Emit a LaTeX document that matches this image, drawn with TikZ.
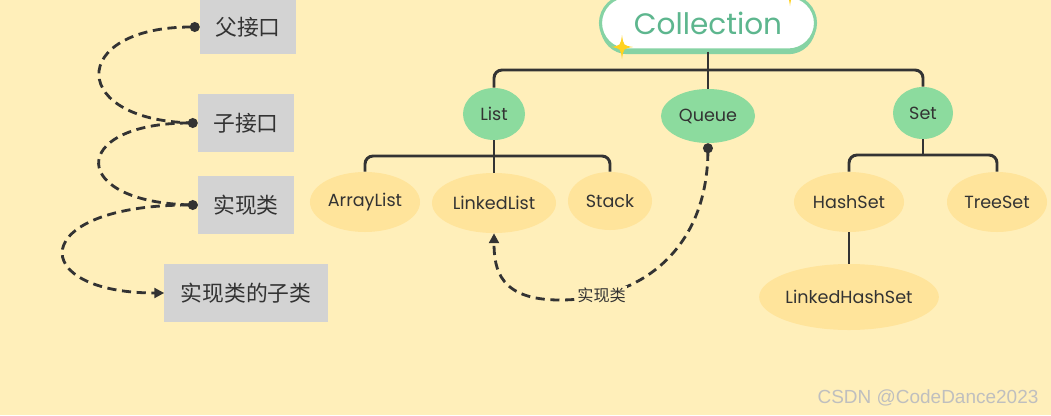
\documentclass[tikz,border=0pt]{standalone}
\usepackage{fontspec}
\setmainfont{Poppins}
\newfontfamily\cjk{Noto Sans CJK SC}
\newfontfamily\markfont{Liberation Sans}
\usepackage{tikz}
\usetikzlibrary{arrows.meta, positioning, shapes.geometric, shadows}
\definecolor{bgyellow}{HTML}{FFEFBA}
\definecolor{boxgray}{HTML}{D3D3D3}
\definecolor{ifgreen}{HTML}{8CDB9E}
\definecolor{clsyellow}{HTML}{FFE49B}
\definecolor{collgreen}{HTML}{86D3A4}
\definecolor{colltext}{HTML}{5DB68E}
\definecolor{inkdark}{HTML}{333333}
\definecolor{sparkle}{HTML}{FFD21F}

\begin{document}
\begin{tikzpicture}[x=0.025cm,y=-0.025cm]
 \tikzstyle{legend}=[rectangle,fill=boxgray,inner sep=0pt,minimum width=2.4cm,
   minimum height=1.425cm,font=\cjk\fontsize{15.5}{18}\selectfont,text=inkdark]
 \tikzstyle{iface}=[ellipse,fill=ifgreen,inner sep=0pt,minimum height=1.3cm,
   font=\fontsize{12.5}{14}\selectfont,text=inkdark]
 \tikzstyle{impl}=[ellipse,fill=clsyellow,inner sep=0pt,minimum height=1.5cm,
   font=\fontsize{12.5}{14}\selectfont,text=inkdark]
 \tikzstyle{tline}=[draw=inkdark,line width=2.1pt,rounded corners=0.2cm]
 \tikzstyle{relation}=[draw=inkdark,line width=2pt,dash pattern=on 6.5pt off 4pt]
 \fill[bgyellow] (0,0) rectangle (1051,415);
 \useasboundingbox (0,0) rectangle (1051,415);

 \node (parent) [legend,minimum height=1.35cm] at (248,27) {父接口};
 \node (child) [legend] at (246,123) {子接口};
 \node (impl) [legend] at (246,205) {实现类};
 \node (sub) [legend,minimum width=4.075cm] at (246,293) {实现类的子类};
 \draw[relation,{Circle[length=7pt]}-] (parent.west)
   .. controls (67,27) and (67,123) .. (child.west);
 \draw[relation,{Circle[length=7pt]}-] (child.west)
   .. controls (67,123) and (67,205) .. (impl.west);
 \draw[relation,{Circle[length=7pt]}-{Triangle[length=7pt,width=7pt]}] (impl.west)
   .. controls (26,205) and (26,293) .. (sub.west);

 \node (coll) [rectangle,rounded corners=0.68cm,fill=white,draw=collgreen,line width=2.2pt,
   minimum width=5.375cm,minimum height=1.35cm,font=\fontsize{21}{24}\selectfont,text=colltext,
   drop shadow={shadow xshift=0pt,shadow yshift=-3pt,fill=collgreen,opacity=1}]
   at (708,23) {Collection};
 \fill[sparkle] (622,35) .. controls (623.5,45.5) .. (633,47) .. controls (623.5,48.5) .. (622,59)
   .. controls (620.5,48.5) .. (611,47) .. controls (620.5,45.5) .. (622,35) -- cycle;
 \fill[sparkle] (790,-18) .. controls (791.5,-7.5) .. (801,-6) .. controls (791.5,-4.5) .. (790,6)
   .. controls (788.5,-4.5) .. (779,-6) .. controls (788.5,-7.5) .. (790,-18) -- cycle;

 \node (list) [iface,minimum width=1.55cm] at (494,114) {List};
 \node (queue) [iface,minimum width=2.35cm,minimum height=1.35cm] at (708,116) {Queue};
 \node (set) [iface,minimum width=1.5cm] at (923,113) {Set};
 \node (arraylist) [impl,minimum width=2.75cm] at (365,202) {ArrayList};
 \node (linkedlist) [impl,minimum width=3.1cm] at (494,203) {LinkedList};
 \node (stack) [impl,minimum width=2.1cm,minimum height=1.45cm] at (610,201) {Stack};
 \node (hashset) [impl,minimum width=2.75cm] at (849,202) {HashSet};
 \node (treeset) [impl,minimum width=2.5cm] at (997,202) {TreeSet};
 \node (linkedhashset) [impl,minimum width=4.35cm,minimum height=1.65cm] at (849,297) {LinkedHashSet};

 \coordinate (collbar) at (708,70);
 \coordinate (listbar) at (494,156);
 \coordinate (setbar) at (923,155);
 \draw[tline] (coll.south) -- (queue.north);
 \draw[tline] (list.north) |- (collbar) -| (set.north);
 \draw[tline] (list.south) -- (linkedlist.north);
 \draw[tline] (arraylist.north) |- (listbar) -| (stack.north);
 \draw[tline] (set.south) -- (setbar);
 \draw[tline] (hashset.north) |- (setbar) -| (treeset.north);
 \draw[tline] (hashset.south) -- (linkedhashset.north);

 \draw[relation,{Circle[length=7pt]}-{Triangle[length=7pt,width=7pt]}] (queue.south)
   .. controls (707,250) and (640,300) .. node[pos=0.82,fill=bgyellow,inner sep=1pt,
   font=\cjk\fontsize{11.5}{13}\selectfont,text=inkdark] (qlabel) {实现类} (560,300)
   .. controls (500,300) and (494,270) .. (linkedlist.south);

 \node (mark) at (928,398) [font=\markfont\fontsize{13.5}{16}\selectfont,text=black!25]
   {CSDN @CodeDance2023};
\end{tikzpicture}
\end{document}
